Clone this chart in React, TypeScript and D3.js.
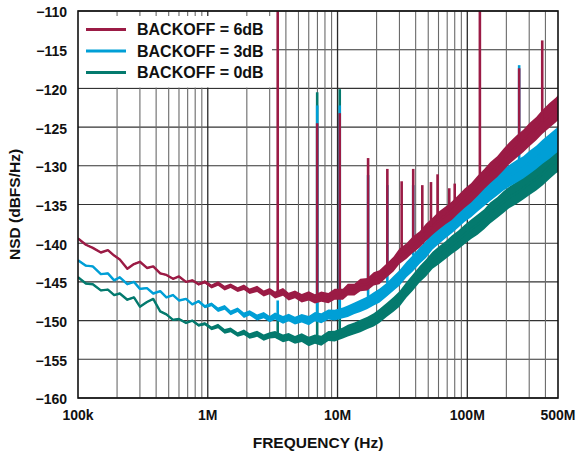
import * as React from "react";
import * as d3 from "d3";

// frequency grid (Hz) the traces were read on
const FREQ = [
  1e5, 1.15e5, 1.3e5, 1.5e5, 1.7e5, 1.9e5, 2.1e5, 2.4e5, 2.7e5, 3e5,
  3.4e5, 3.8e5, 4.3e5, 4.8e5, 5.4e5, 6e5, 6.8e5, 7.6e5, 8.5e5, 9.5e5,
  1.07e6, 1.2e6, 1.35e6, 1.5e6, 1.7e6, 1.9e6, 2.1e6, 2.4e6, 2.7e6, 3e6,
  3.3e6, 3.8e6, 4.2e6, 4.7e6, 5.3e6, 6e6, 6.7e6, 7.5e6, 8.5e6, 9.5e6,
  1.1e7, 1.2e7, 1.35e7, 1.5e7, 1.7e7, 1.9e7, 2.1e7, 2.4e7, 2.7e7, 3e7,
  3.4e7, 3.8e7, 4.3e7, 4.8e7, 5.4e7, 6e7, 6.8e7, 7.6e7, 8.5e7, 9.5e7,
  1.07e8, 1.2e8, 1.35e8, 1.5e8, 1.7e8, 1.9e8, 2.1e8, 2.4e8, 2.7e8, 3e8,
  3.4e8, 3.8e8, 4.3e8, 4.8e8, 5e8,
];

const NSD_6DB = [
  -139.4, -140.2, -140.6, -141.2, -140.9, -141.6, -142.1, -143.3, -142.7, -142.4,
  -143.2, -143.0, -143.9, -144.1, -144.6, -144.3, -145.0, -144.8, -145.3, -145.0,
  -145.6, -145.2, -145.8, -145.5, -146.0, -145.7, -146.2, -145.9, -146.5, -146.2,
  -146.7, -146.3, -146.9, -146.6, -147.1, -146.8, -147.2, -146.9, -147.1, -146.6,
  -146.6, -146.0, -146.0, -145.4, -145.3, -144.6, -144.4, -143.5, -142.7, -141.7,
  -141.0, -140.2, -139.5, -138.6, -137.8, -137.1, -136.4, -135.8, -135.0, -134.2,
  -133.5, -132.6, -131.7, -130.9, -130.1, -129.2, -128.4, -127.5, -126.8, -126.0,
  -125.2, -124.3, -123.5, -122.8, -122.5,
];

const NSD_3DB = [
  -142.2, -142.9, -143.0, -144.0, -143.9, -144.8, -144.4, -145.3, -145.0, -145.9,
  -145.8, -146.5, -146.2, -147.0, -146.7, -147.4, -147.2, -147.9, -147.5, -148.2,
  -147.9, -148.6, -148.3, -149.0, -148.6, -149.3, -149.0, -149.6, -149.3, -149.8,
  -149.4, -149.9, -149.6, -150.0, -149.7, -150.0, -149.5, -149.7, -149.2, -149.3,
  -149.0, -148.8, -148.4, -148.1, -147.7, -147.2, -146.8, -146.0, -145.2, -144.5,
  -143.4, -142.6, -141.6, -140.8, -139.7, -139.0, -138.2, -137.5, -136.8, -136.0,
  -135.4, -134.6, -133.9, -133.2, -132.5, -131.8, -131.3, -130.7, -130.2, -129.6,
  -128.9, -128.2, -127.5, -126.8, -126.6,
];

const NSD_0DB = [
  -144.4, -145.2, -145.3, -146.1, -146.0, -146.7, -146.5, -147.3, -147.0, -148.2,
  -147.6, -147.2, -148.8, -149.2, -149.9, -149.8, -150.3, -150.0, -150.6, -150.4,
  -151.0, -150.7, -151.4, -151.2, -151.8, -151.5, -152.0, -151.7, -152.2, -151.9,
  -151.8, -152.3, -152.1, -152.5, -152.2, -152.7, -152.4, -152.6, -152.0, -152.0,
  -151.6, -151.3, -151.0, -150.7, -150.3, -149.9, -149.4, -148.6, -147.9, -147.2,
  -146.0, -145.1, -144.0, -143.2, -142.2, -141.6, -140.9, -140.2, -139.6, -138.9,
  -138.2, -137.6, -136.9, -136.1, -135.4, -134.7, -134.1, -133.5, -132.9, -132.3,
  -131.7, -131.0, -130.1, -129.4, -129.2,
];

// half-width of the noise band (dB) on the same grid
const BAND = [
  0.1, 0.1, 0.1, 0.1, 0.1, 0.1, 0.1, 0.1, 0.1, 0.1,
  0.1, 0.1, 0.1, 0.1, 0.1, 0.1, 0.1, 0.1, 0.15, 0.2,
  0.25, 0.3, 0.3, 0.3, 0.3, 0.35, 0.35, 0.4, 0.4, 0.4,
  0.45, 0.5, 0.5, 0.5, 0.55, 0.6, 0.6, 0.65, 0.65, 0.7,
  0.7, 0.75, 0.75, 0.8, 0.8, 0.85, 0.9, 0.9, 0.95, 1.0,
  1.0, 1.05, 1.05, 1.1, 1.1, 1.15, 1.15, 1.2, 1.2, 1.25,
  1.25, 1.3, 1.3, 1.35, 1.35, 1.4, 1.4, 1.45, 1.45, 1.5,
  1.5, 1.55, 1.6, 1.6, 1.6,
];

// spurs: frequency (Hz) and peak level (dBFS/Hz)
const SPUR_F_6DB = [3.46e6, 6.97e6, 1.04e7, 1.72e7, 2.42e7, 3.12e7, 3.83e7, 4.5e7, 5.25e7, 5.9e7, 7.26e7, 8.0e7, 1.25e8, 2.51e8, 3.78e8];
const SPUR_P_6DB = [-108, -124.5, -123.2, -129.0, -130.4, -132.0, -130.4, -132.5, -132.1, -131.1, -132.9, -132.3, -108, -117.4, -113.8];
const SPUR_F_3DB = [3.46e6, 6.97e6, 1.04e7, 1.72e7, 2.42e7, 3.83e7, 2.51e8];
const SPUR_P_3DB = [-147.4, -122.2, -122.2, -131.2, -132.5, -132.5, -117.0];
const SPUR_F_0DB = [3.46e6, 6.97e6, 1.04e7];
const SPUR_P_0DB = [-149.3, -120.5, -120.1];

const X_TICKS = [1e5, 1e6, 1e7, 1e8, 5e8];
const X_LABELS = ["100k", "1M", "10M", "100M", "500M"];
const Y_TICKS = [-110, -115, -120, -125, -130, -135, -140, -145, -150, -155, -160];

const W = 579;
const H = 456;
const m = { left: 78, right: 558, top: 11, bottom: 398 };
const FONT = "'Liberation Sans', Arial, Helvetica, sans-serif";

const series = [
  { name: "BACKOFF = 6dB", color: "#9b1b45", nsd: NSD_6DB, sf: SPUR_F_6DB, sp: SPUR_P_6DB },
  { name: "BACKOFF = 3dB", color: "#009fd6", nsd: NSD_3DB, sf: SPUR_F_3DB, sp: SPUR_P_3DB },
  { name: "BACKOFF = 0dB", color: "#047a6e", nsd: NSD_0DB, sf: SPUR_F_0DB, sp: SPUR_P_0DB },
];

export default function App() {
  const x = d3.scaleLog().domain([1e5, 5e8]).range([m.left, m.right]);
  const y = d3.scaleLinear().domain([-160, -110]).range([m.bottom, m.top]);

  // vertical grid: every 1..9 of each decade
  const grid: number[] = [];
  for (let d = 1e5; d < 5e8; d *= 10) {
    for (let k = 1; k < 10; k++) {
      const f = d * k;
      if (f > 1e5 && f < 5e8) grid.push(f);
    }
  }

  const lineGen = (vals: number[]) =>
    d3.line<number>().x((_, i) => x(FREQ[i])).y(v => y(v))(vals);
  const areaGen = (vals: number[]) =>
    d3
      .area<number>()
      .x((_, i) => x(FREQ[i]))
      .y0((v, i) => y(v - BAND[i]))
      .y1((v, i) => y(v + BAND[i]))(vals);

  const floorAt = (vals: number[], f: number) => {
    const i = d3.bisectLeft(FREQ, f);
    return vals[Math.min(i, vals.length - 1)];
  };

  const drawOrder = [2, 1, 0];

  return (
    <svg width={W} height={H} style={{ position: "absolute", left: 0, top: 0, background: "#fff" }}>
      <defs>
        <clipPath id="plot">
          <rect x={m.left} y={m.top} width={m.right - m.left} height={m.bottom - m.top} />
        </clipPath>
      </defs>
      <rect x={0} y={0} width={W} height={H} fill="#fff" />
      {Y_TICKS.map(t => (
        <line key={"h" + t} x1={m.left} x2={m.right} y1={y(t)} y2={y(t)} stroke="#333" strokeWidth={1.1} />
      ))}
      {grid.map(f => {
        const decade = Math.abs(Math.log10(f) - Math.round(Math.log10(f))) < 1e-9;
        return (
          <line
            key={"v" + f}
            x1={x(f)}
            x2={x(f)}
            y1={m.top}
            y2={m.bottom}
            stroke={decade ? "#2a2a2a" : "#6a6a6a"}
            strokeWidth={decade ? 1.3 : 1.1}
          />
        );
      })}
      <rect x={m.left} y={16} width={272 - m.left} height={87.5 - 16} fill="#fff" />

      <g clipPath="url(#plot)">
        {drawOrder.map(k => {
          const s = series[k];
          return (
            <g key={s.name}>
              <path d={areaGen(s.nsd) || ""} fill={s.color} />
              <path d={lineGen(s.nsd) || ""} fill="none" stroke={s.color} strokeWidth={2.4} strokeLinejoin="round" />
              {s.sf.map((f, i) => (
                <line
                  key={f}
                  x1={x(f)}
                  x2={x(f)}
                  y1={y(floorAt(s.nsd, f))}
                  y2={y(s.sp[i])}
                  stroke={s.color}
                  strokeWidth={2.6}
                />
              ))}
            </g>
          );
        })}
      </g>

      <rect x={m.left} y={m.top} width={m.right - m.left} height={m.bottom - m.top} fill="none" stroke="#111" strokeWidth={1.6} />

      {series.map((s, i) => (
        <g key={"lg" + i}>
          <line x1={86} x2={126} y1={29.5 + i * 21.5} y2={29.5 + i * 21.5} stroke={s.color} strokeWidth={2.8} />
          <text x={137} y={35 + i * 21.5} fontFamily={FONT} fontWeight="bold" fontSize={16} fill="#111">
            {s.name}
          </text>
        </g>
      ))}

      {Y_TICKS.map(t => (
        <text
          key={"yl" + t}
          x={67}
          y={y(t) + 1.5}
          dy="0.35em"
          textAnchor="end"
          fontFamily={FONT}
          fontWeight="bold"
          fontSize={14}
          fill="#111"
        >
          {"\u2212" + Math.abs(t)}
        </text>
      ))}
      {X_TICKS.map((t, i) => (
        <text
          key={"xl" + t}
          x={x(t)}
          y={420}
          textAnchor="middle"
          fontFamily={FONT}
          fontWeight="bold"
          fontSize={14}
          fill="#111"
        >
          {X_LABELS[i]}
        </text>
      ))}
      <text x={318} y={448} textAnchor="middle" fontFamily={FONT} fontWeight="bold" fontSize={15.5} fill="#111">
        FREQUENCY (Hz)
      </text>
      <text
        transform={`translate(20,${(m.top + m.bottom) / 2}) rotate(-90)`}
        textAnchor="middle"
        fontFamily={FONT}
        fontWeight="bold"
        fontSize={15.5}
        fill="#111"
      >
        NSD (dBFS/Hz)
      </text>
    </svg>
  );
}
